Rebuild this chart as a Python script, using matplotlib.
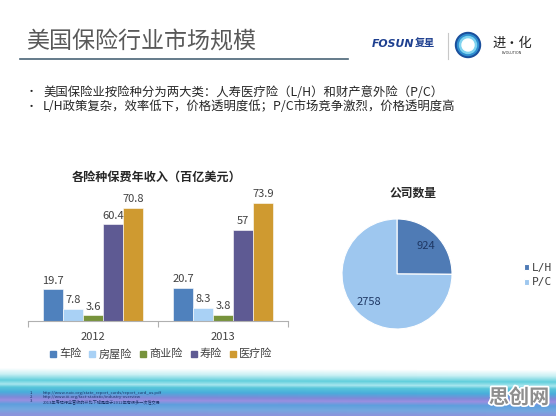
import numpy as np
import matplotlib
matplotlib.use("Agg")
from matplotlib import pyplot as plt
from matplotlib import colors as mcolors
from matplotlib.patches import Circle
from matplotlib.lines import Line2D
import matplotlib.patheffects as pe

plt.rcParams['font.family'] = ['Noto Sans CJK SC', 'DejaVu Sans']

# chart data
years = ['2012', '2013']
kinds = ['车险', '房屋险', '商业险', '寿险', '医疗险']
premium2012 = [19.7, 7.8, 3.6, 60.4, 70.8]
premium2013 = [20.7, 8.3, 3.8, 57, 73.9]
companyKinds = ['L/H', 'P/C']
companyCounts = [924, 2758]

# slide texts
pageTitle = '美国保险行业市场规模'
bullets = ['美国保险业按险种分为两大类：人寿医疗险（L/H）和财产意外险（P/C）',
           'L/H政策复杂，效率低下，价格透明度低；P/C市场竞争激烈，价格透明度高']
barTitle = '各险种保费年收入（百亿美元）'
pieTitle = '公司数量'
notes = ['http://www.naic.org/state_report_cards/report_card_us.pdf',
         'http://www.iii.org/fact-statistic/industry-overview',
         '2013年寿险行业营收的环比下降是由于2012年有很多一次性交易']

barColors = ['#4f81bd', '#a9d1f5', '#77933c', '#5e5a93', '#cf9a30']
pieColors = ['#4f7bb5', '#9ec7ef']

W, H = 556, 416
fig = plt.figure(figsize=(W / 100, H / 100), dpi=100)


def figRect(left, top, width, height):
    # pixel box (from top-left) -> figure fraction
    return [left / W, 1 - (top + height) / H, width / W, height / H]


# page layer in pixel coordinates
page = fig.add_axes([0, 0, 1, 1], zorder=0)
page.axis('off')

# bottom wave band, done as a vertical colour ramp
stopsY = [356, 370, 376, 382, 386, 389, 394, 399, 402, 406, 411, 416]
stopsC = ['#ffffff', '#ffffff', '#c9f0f4', '#62cfdc', '#a7e6ee', '#58c6da',
          '#49addb', '#7f8ad8', '#9a8fe0', '#5e9fdd', '#74a8e0', '#8a94dc']
rgb = np.array([mcolors.to_rgb(c) for c in stopsC])
ys = np.arange(356, 416) + 0.5
xs = np.arange(W) + 0.5
Y, X = np.meshgrid(ys, xs, indexing='ij')
Ytilt = Y + 2 * (1 - X / W)
band = np.zeros(Y.shape + (3,))
for ch in range(3):
    band[..., ch] = np.interp(Ytilt, stopsY, rgb[:, ch])
page.imshow(band, extent=(0, W, 416, 356), aspect='auto', zorder=0)
page.set_xlim(0, W)
page.set_ylim(H, 0)

# header
page.text(26, 42, pageTitle, fontsize=16.6, color='#595959', va='center', ha='left')
page.plot([20, 348], [59, 59], color='#4a6577', lw=1.2)

# logo block
page.text(372, 44, 'FOSUN', fontsize=7.8, fontweight='bold', style='italic',
          color='#1d3f8f', family='DejaVu Sans', va='center')
page.text(415, 44, '复星', fontsize=7.3, fontweight='bold', color='#1d3f8f', va='center')
page.plot([448, 448], [33, 59], color='#c8c8c8', lw=0.8)
for r, c in [(12.5, '#1a4f9c'), (10.5, '#2f8fd0'), (8.5, '#7fd3ef'), (6, '#ffffff')]:
    page.add_patch(Circle((468, 45), r, color=c, zorder=3))
page.text(492, 43, '进·化', fontsize=9.5, style='italic', color='#222222', va='center')
page.text(512, 53, 'EVOLUTION', fontsize=2.5, color='#333333', va='center', ha='center',
          family='DejaVu Sans')

# bullet lines
for i, line in enumerate(bullets):
    y = 92 + i * 15
    page.text(26, y, '•', fontsize=8, color='#262626', va='center')
    page.text(43, y, line, fontsize=8.9, color='#262626', va='center')

# foot notes
for i, note in enumerate(notes):
    y = 393 + i * 4.2
    page.text(30, y, f'{i + 1}.', fontsize=3, color='#1c3468', va='center')
    page.text(43, y, note, fontsize=3, color='#1c3468', va='center')

page.text(519, 397, '思创网', fontsize=14.5, fontweight='bold', color='#8e8e8e',
          ha='center', va='center',
          path_effects=[pe.withStroke(linewidth=2.5, foreground='white')])

# ---- grouped bar chart ----
bar = fig.add_axes(figRect(28, 193, 260, 128), zorder=2)
bar.patch.set_alpha(0)
values = np.array([premium2012, premium2013]).T
x = np.arange(len(years))
width = 0.154
for i, kind in enumerate(kinds):
    rects = bar.bar(x + (i - 2) * width, values[i], width, color=barColors[i],
                    label=kind, edgecolor='white', linewidth=0.4)
    bar.bar_label(rects, labels=[f'{v:g}' for v in values[i]], padding=2.5,
                  fontsize=8, color='#404040')
bar.set_xlim(-0.5, 1.5)
bar.set_ylim(0, 80)
for s in ['top', 'left', 'right']:
    bar.spines[s].set_visible(False)
bar.spines['bottom'].set_color('#b0b0b0')
bar.set_yticks([])
bar.set_xticks([-0.5, 0.5, 1.5])
bar.set_xticklabels([])
bar.tick_params(axis='x', which='major', length=4, color='#b0b0b0')
bar.set_xticks(x, minor=True)
bar.set_xticklabels(years, minor=True)
bar.tick_params(axis='x', which='minor', length=0, pad=8, labelsize=8, labelcolor='#404040')
page.text(157, 177, barTitle, fontsize=8.7, fontweight='bold', color='#262626',
          ha='center', va='center')

handles = [Line2D([], [], marker='s', linestyle='', color=c, markersize=4) for c in barColors]
fig.legend(handles, kinds, loc='center', bbox_to_anchor=(160 / W, 1 - 354 / H), ncol=5,
           frameon=False, fontsize=8, handletextpad=0.05, columnspacing=0.5,
           handlelength=1.0, labelcolor='#404040')

# ---- pie of company counts ----
pie = fig.add_axes(figRect(342, 219, 110, 110), zorder=2)
total = sum(companyCounts)
wedges, texts, autotexts = pie.pie(
    companyCounts, colors=pieColors, startangle=90, counterclock=False,
    autopct=lambda p: f'{round(p * total / 100)}', pctdistance=0.73,
    wedgeprops=dict(edgecolor='white', linewidth=0.8),
    textprops=dict(fontsize=8, color='#1f3864'))
pie.set_xlim(-1, 1)
pie.set_ylim(-1, 1)
pie.set_aspect('equal')
page.text(413, 193, pieTitle, fontsize=8.5, fontweight='bold', color='#262626',
          ha='center', va='center')
fig.legend(wedges, companyKinds, loc='center left', bbox_to_anchor=(514 / W, 1 - 275 / H),
           frameon=False, handlelength=0.45, handleheight=0.45,
           handletextpad=0.3, labelspacing=0.45, labelcolor='#404040',
           prop=dict(family='DejaVu Sans Mono', size=8))

fig.savefig('out.png', dpi=100)
